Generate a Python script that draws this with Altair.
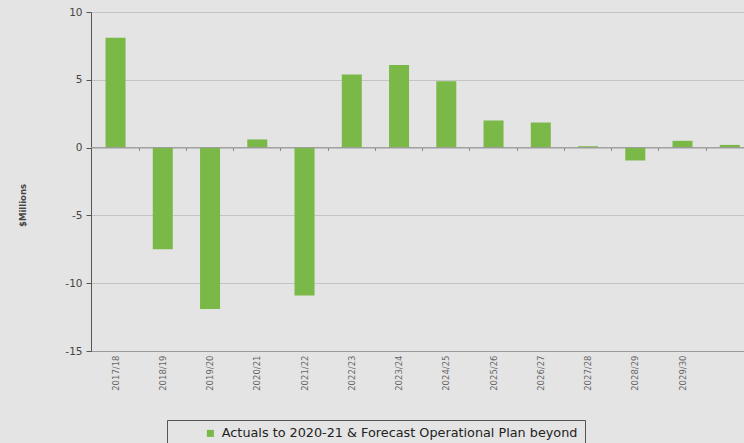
import altair as alt
import pandas as pd

years = ["2017/18", "2018/19", "2019/20", "2020/21", "2021/22", "2022/23", "2023/24",
         "2024/25", "2025/26", "2026/27", "2027/28", "2028/29", "2029/30", "2030/31"]
values = [8.1, -7.5, -11.9, 0.6, -10.9, 5.4, 6.1, 4.9, 2.0, 1.85, 0.1, -0.95, 0.5, 0.2]
series = "Actuals to 2020-21 & Forecast Operational Plan beyond"

df = pd.DataFrame({"year": years, "value": values, "series": [series] * len(years)})
zero = pd.DataFrame({"y": [0]})

BG = "#e4e4e4"
GREEN = "#7ab847"
FONT = "DejaVu Sans"

xscale = alt.Scale(domain=years, paddingInner=0.57, paddingOuter=0.195, align=0.78)

bars = alt.Chart(df).mark_bar(size=20).encode(
    x=alt.X("year:N", scale=xscale, sort=years, title=None,
            axis=alt.Axis(labelAngle=-90, labelFontSize=8.5, labelColor="#666", labelFont=FONT,
                          labelPadding=4, ticks=False, grid=False, domainColor="#9a9a9a",
                          labelExpr="datum.label == '2030/31' ? '' : datum.label")),
    y=alt.Y("value:Q", scale=alt.Scale(domain=[-15, 10], nice=False),
            axis=alt.Axis(values=[-15, -10, -5, 0, 5, 10], title="$Millions", grid=True,
                          labelExpr="datum.value < 0 ? '-' + abs(datum.value) : '' + datum.value",
                          titleFont=FONT, titleFontSize=8.5, titleFontWeight="bold",
                          titleColor="#444", titleX=-69, titleY=193, titleAngle=-90,
                          titleAlign="center", titleBaseline="middle",
                          labelFont=FONT, labelFontSize=10.5, labelColor="#444",
                          labelPadding=4, tickSize=5, tickColor="#555",
                          domainColor="#555", gridColor="#c4c4c4")),
    color=alt.Color("series:N", scale=alt.Scale(range=[GREEN]),
                    legend=alt.Legend(title=None, orient="none", legendX=76, legendY=408,
                                      symbolType="square", symbolSize=49, symbolStrokeWidth=0,
                                      labelFont=FONT, labelFontSize=12.8, labelColor="#222",
                                      labelLimit=700, padding=7, symbolOffset=30,
                                      labelOffset=5, strokeColor="#555", fillColor=BG)),
)

# zero line across the full plot width
rule = alt.Chart(zero).mark_rule(color="#9a9a9a", strokeWidth=1).encode(y="y:Q")

# invisible layer whose x axis draws the small category-boundary ticks on the zero line
tick_axis = alt.Chart(df).mark_point(opacity=0).encode(
    x=alt.X("year:N", scale=xscale, sort=years, title=None,
            axis=alt.Axis(offset=-203.5, labels=False, domain=False, grid=False,
                          ticks=True, tickSize=3, tickColor="#8a8a8a", bandPosition=1.66,
                          orient="bottom")),
    y=alt.Y("value:Q"),
)

chart = alt.layer(bars, rule, tick_axis).resolve_axis(x="independent").properties(
    width=653, height=339,
    autosize=alt.AutoSizeParams(type="none"),
    padding={"left": 91, "top": 12, "right": 0, "bottom": 92},
    background=BG,
).configure_view(stroke=None)

chart.save("out.html", embed_options={"renderer": "svg", "actions": False})
